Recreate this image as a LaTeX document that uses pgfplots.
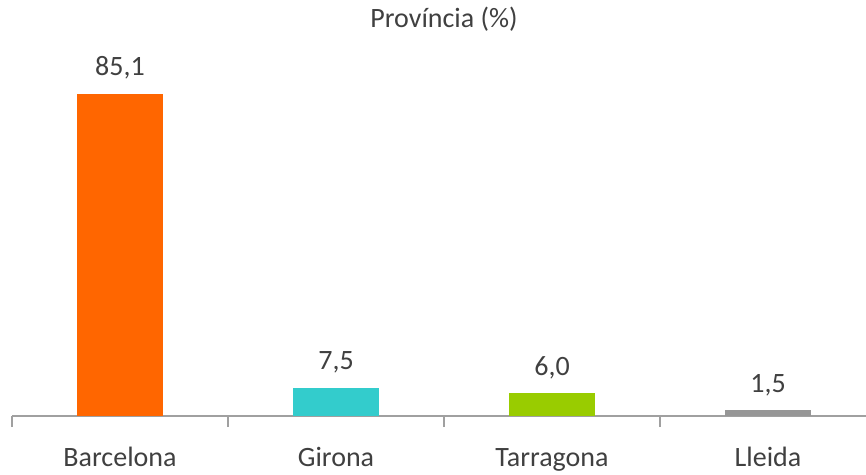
\documentclass[border=0pt]{standalone}
\usepackage{pgfplots}
\pgfplotsset{compat=1.18}
\usepackage{fontspec}
\setmainfont{Carlito}
\definecolor{txt}{HTML}{404040}
\definecolor{axl}{HTML}{A0A0A0}
\definecolor{c1}{HTML}{FF6600}
\definecolor{c2}{HTML}{33CCCC}
\definecolor{c3}{HTML}{99CC00}
\definecolor{c4}{HTML}{969696}
\begin{document}
\begin{tikzpicture}[x=1pt,y=1pt]
\path[use as bounding box] (0,0) rectangle (866,474);
\begin{axis}[
  at={(12pt,58pt)}, anchor=south west,
  scale only axis, width=854pt, height=359.5pt,
  xmin=-0.5, xmax=3.4537, ymin=0, ymax=95,
  axis x line*=bottom, axis y line=none,
  axis line style={axl, line width=2pt, -},
  xtick={0,1,2,3},
  xticklabels={Barcelona,Girona,Tarragona,Lleida},
  major tick length=0pt,
  minor xtick={-0.5,0.5,1.5,2.5},
  minor tick length=11pt,
  tick align=outside,
  minor tick style={axl, line width=2pt},
  xticklabel style={font=\fontsize{28}{32}\selectfont, text=txt, anchor=base, yshift=-50pt},
  ytick=\empty,
  title={Província (\%)},
  title style={font=\fontsize{28}{32}\selectfont, text=txt, anchor=base, at={(axis description cs:0.5,1)}, yshift=23pt, xshift=5pt},
  ybar, bar width=86pt,
  /pgf/number format/assume math mode=true,
  nodes near coords={\pgfmathprintnumber[fixed,fixed zerofill,precision=1,use comma]{\pgfplotspointmeta}},
  nodes near coords style={font=\fontsize{28}{32}\selectfont, text=txt, anchor=base, yshift=18pt},
  clip=false,
]
\addplot[fill=c1, draw=none, bar shift=0pt] coordinates {(0,85.1)};
\addplot[fill=c2, draw=none, bar shift=0pt] coordinates {(1,7.5)};
\addplot[fill=c3, draw=none, bar shift=0pt] coordinates {(2,6.0)};
\addplot[fill=c4, draw=none, bar shift=0pt] coordinates {(3,1.5)};
\end{axis}
\end{tikzpicture}
\end{document}
